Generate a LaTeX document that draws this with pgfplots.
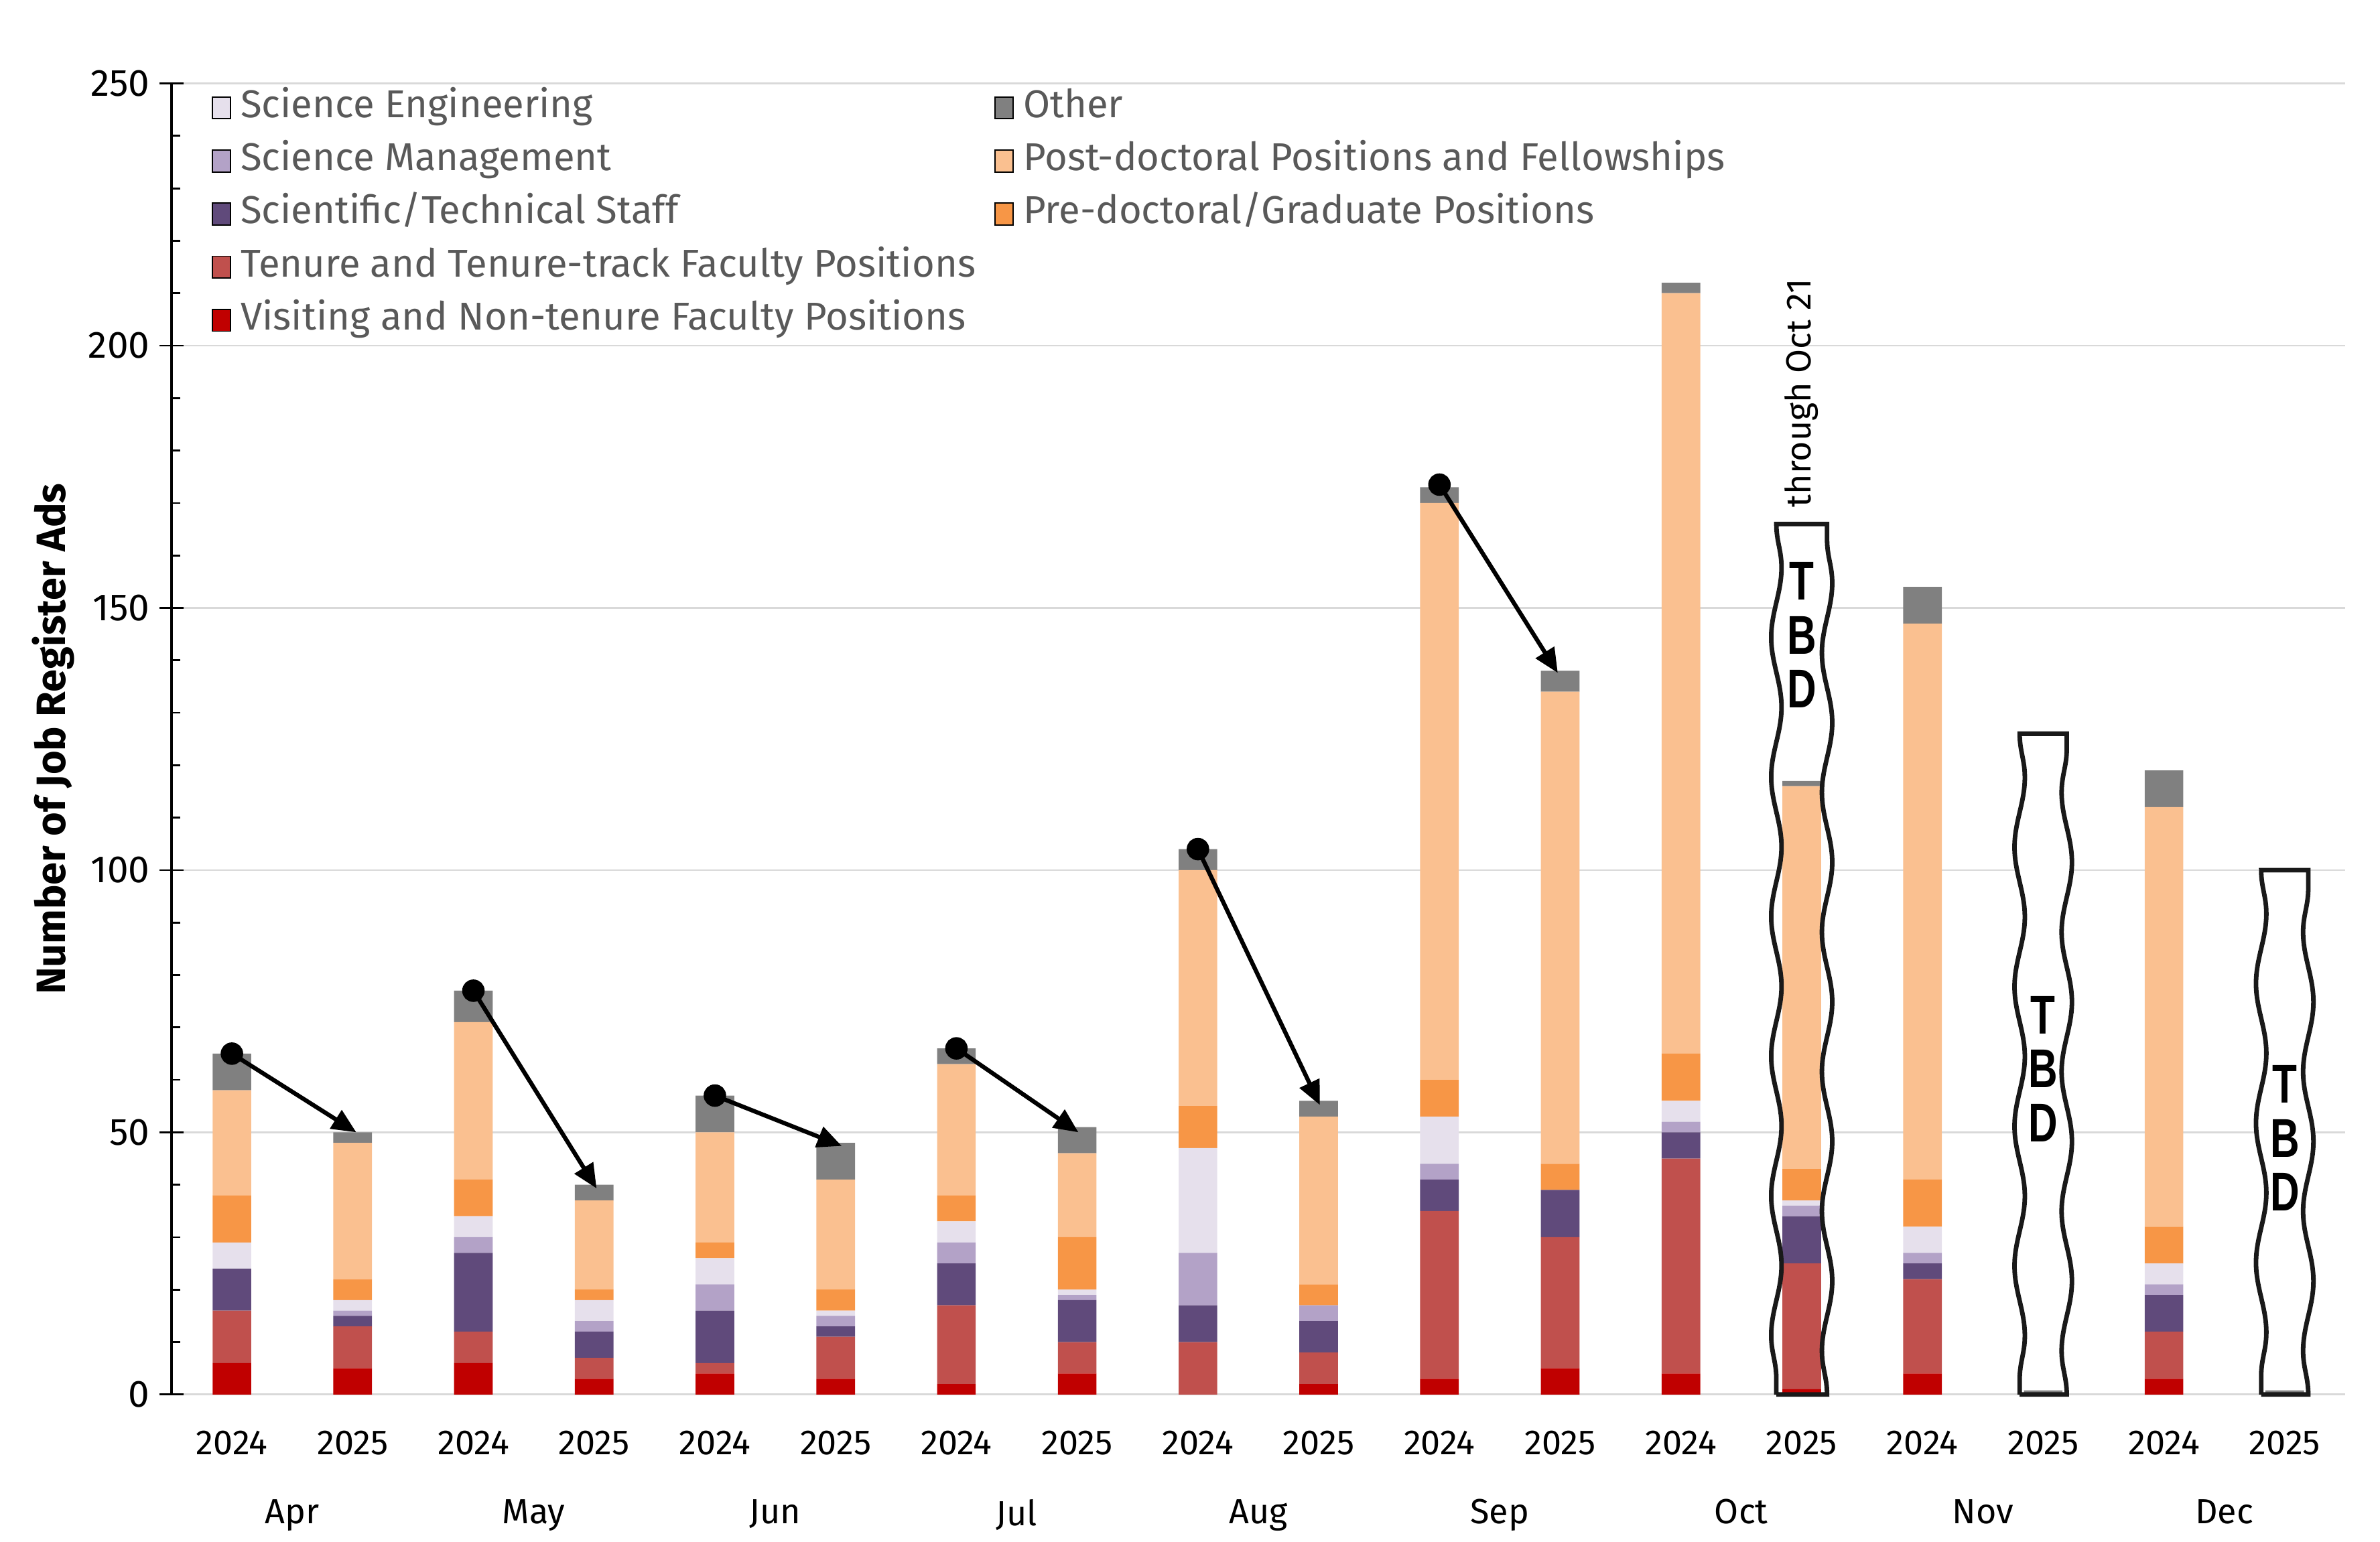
\documentclass[border=0pt]{standalone}
\usepackage{fontspec}
\setmainfont{Fira Sans}
\newfontfamily\tbdfont{Liberation Sans}
\usepackage{pgfplots}
\usepackage{pgfplotstable}
\pgfplotsset{compat=1.18}
\usetikzlibrary{arrows.meta,decorations.pathmorphing}

\definecolor{cVis}{HTML}{C00000}
\definecolor{cTen}{HTML}{C0504D}
\definecolor{cSts}{HTML}{604A7B}
\definecolor{cMgt}{HTML}{B3A2C7}
\definecolor{cEng}{HTML}{E6E0EC}
\definecolor{cPre}{HTML}{F79646}
\definecolor{cPost}{HTML}{FAC090}
\definecolor{cOth}{HTML}{808080}
\definecolor{gridgray}{HTML}{D9D9D9}
\definecolor{legtext}{HTML}{595959}

% Job Register ads per category; rows alternate 2024 / 2025 for Apr..Dec
\pgfplotstableread{
x  vis ten sts mgt eng pre post oth
0  6   10  8   0   5   9   20   7
1  5   8   2   1   2   4   26   2
2  6   6   15  3   4   7   30   6
3  3   4   5   2   4   2   17   3
4  4   2   10  5   5   3   21   7
5  3   8   2   2   1   4   21   7
6  2   15  8   4   4   5   25   3
7  4   6   8   1   1   10  16   5
8  0   10  7   10  20  8   45   4
9  2   6   6   3   0   4   32   3
10 3   32  6   3   9   7   110  3
11 5   25  9   0   0   5   90   4
12 4   41  5   2   4   9   145  2
13 1   24  9   2   1   6   73   1
14 4   18  3   2   5   9   106  7
15 0   0   0   0   0   0   0    0.8
16 3   9   7   2   4   7   80   7
17 0   0   0   0   0   0   0    0.8
}\adsdata

% wavy "to be determined" outline: left x, right x, top
\newcommand{\tbdpath}[3]{(axis cs:#1,0) -- (axis cs:#2,0)
  decorate{-- (axis cs:#2,#3)} -- (axis cs:#1,#3)
  decorate{-- (axis cs:#1,0)} -- cycle}
\tikzset{wavy/.style={decoration={snake,amplitude=1.7pt,segment length=46pt}}}

\pgfplotsset{
  samebox/.style={width=716pt, height=432pt, scale only axis,
    xmin=-0.5, xmax=17.5, ymin=0, ymax=250, enlargelimits=false},
}

\begin{document}
\begin{tikzpicture}
% frame: grid, y axis, tick labels
\begin{axis}[
  samebox,
  axis x line*=bottom, axis y line*=left,
  x axis line style={draw=none},
  y axis line style={black, line width=0.7pt},
  xtick={0,...,17},
  xticklabels={2024,2025,2024,2025,2024,2025,2024,2025,2024,2025,2024,2025,2024,2025,2024,2025,2024,2025},
  major x tick style=transparent,
  extra x ticks={0.5,2.5,4.5,6.5,8.5,10.5,12.5,14.5,16.5},
  extra x tick labels={Apr,May,Jun,Jul,Aug,Sep,Oct,Nov,Dec},
  extra x tick style={major tick length=0pt, major x tick style=transparent,
    xticklabel style={yshift=-26.5pt}},
  xticklabel style={font=\fontsize{11.5}{13}\selectfont, yshift=-4.5pt},
  ytick={0,50,...,250},
  minor y tick num=4,
  tick align=center,
  major tick length=8pt, minor tick length=2.8pt,
  minor tick style={xshift=1.4pt},
  major y tick style={black, line width=0.6pt},
  minor y tick style={black, line width=0.6pt},
  yticklabel style={font=\fontsize{12.5}{14}\selectfont, xshift=0.3pt},
  /pgf/number format/assume math mode=true,
  ymajorgrids, grid style={gridgray, line width=0.6pt},
  ylabel={Number of Job Register Ads},
  every axis y label/.style={at={(axis description cs:-0.0545,0.5)}, rotate=90, anchor=center,
    font=\bfseries\fontsize{13.5}{15}\selectfont},
]
% white backing of the pending months
\path[wavy, fill=white] \tbdpath{12.79}{13.21}{166};
\path[wavy, fill=white] \tbdpath{14.805}{15.195}{126};
\path[wavy, fill=white] \tbdpath{16.805}{17.195}{100};
\end{axis}

% stacked bars
\begin{axis}[samebox, axis lines=none, ybar stacked, bar width=0.32]
\addplot[fill=cVis,  draw=none] table[x=x,y=vis]{\adsdata};
\addplot[fill=cTen,  draw=none] table[x=x,y=ten]{\adsdata};
\addplot[fill=cSts,  draw=none] table[x=x,y=sts]{\adsdata};
\addplot[fill=cMgt,  draw=none] table[x=x,y=mgt]{\adsdata};
\addplot[fill=cEng,  draw=none] table[x=x,y=eng]{\adsdata};
\addplot[fill=cPre,  draw=none] table[x=x,y=pre]{\adsdata};
\addplot[fill=cPost, draw=none] table[x=x,y=post]{\adsdata};
\addplot[fill=cOth,  draw=none] table[x=x,y=oth]{\adsdata};
\end{axis}

% legend and annotations
\begin{axis}[
  samebox,
  axis lines=none, clip=false,
  legend columns=2,
  legend cell align=left,
  legend image code/.code={\fill[#1] (0pt,-3.6pt) rectangle (6pt,3.6pt);},
  legend style={at={(axis description cs:0,1)}, anchor=north west,
    xshift=13pt, yshift=-0.5pt, draw=none, fill=none, inner sep=0pt,
    font=\fontsize{12.8}{14}\selectfont, text=legtext, row sep=2.8pt,
    nodes={inner sep=1.5pt, text height=9pt, text depth=2.7pt},
    /tikz/every odd column/.append style={column sep=1.7pt},
    /tikz/every even column/.append style={column sep=4.6pt}},
]
\addlegendimage{fill=cEng}  \addlegendentry{Science Engineering}
\addlegendimage{fill=cOth}  \addlegendentry{Other}
\addlegendimage{fill=cMgt}  \addlegendentry{Science Management}
\addlegendimage{fill=cPost} \addlegendentry{Post-doctoral Positions and Fellowships}
\addlegendimage{fill=cSts}  \addlegendentry{Scientific/Technical Staff}
\addlegendimage{fill=cPre}  \addlegendentry{Pre-doctoral/Graduate Positions}
\addlegendimage{fill=cTen}  \addlegendentry{Tenure and Tenure-track Faculty Positions}
\addlegendimage{empty legend} \addlegendentry{}
\addlegendimage{fill=cVis}  \addlegendentry{Visiting and Non-tenure Faculty Positions}

% year-over-year change from 2024 to 2025
\pgfplotsset{yoy/.style={forget plot, black, line width=1.4pt,
  -{Triangle[length=8pt,width=7pt]},
  mark=*, mark indices={1}, mark size=3pt, mark options={solid, fill=black}}}
\addplot[yoy] coordinates {(0,65) (1.03,50)};
\addplot[yoy] coordinates {(2,77) (3.02,39.3)};
\addplot[yoy] coordinates {(4,57) (5.05,47.4)};
\addplot[yoy] coordinates {(6,66) (7.01,50)};
\addplot[yoy] coordinates {(8,104) (9.01,55.2)};
\addplot[yoy] coordinates {(10,173.5) (10.98,137.6)};

% pending months
\draw[wavy, black!90, line width=1.5pt] \tbdpath{12.79}{13.21}{166};
\draw[wavy, black!90, line width=1.5pt] \tbdpath{14.805}{15.195}{126};
\draw[wavy, black!90, line width=1.5pt] \tbdpath{16.805}{17.195}{100};
\tikzset{tbd/.style={font=\tbdfont\bfseries\fontsize{18}{17.8}\selectfont, xscale=0.74,
  inner sep=0pt, anchor=center, align=center}}
\node[tbd] at (axis cs:13,144.8) {T\\B\\D};
\node[tbd] at (axis cs:15,62.1) {T\\B\\D};
\node[tbd] at (axis cs:17,48.9) {T\\B\\D};
\node[rotate=90, anchor=west, inner sep=1pt, font=\fontsize{11.5}{13}\selectfont]
  at (axis cs:13,168.5) {through Oct 21};
\end{axis}

\pgfresetboundingbox
\path[use as bounding box] (-56.5pt,-48.5pt) rectangle (727.5pt,459.5pt);
\end{tikzpicture}
\end{document}
